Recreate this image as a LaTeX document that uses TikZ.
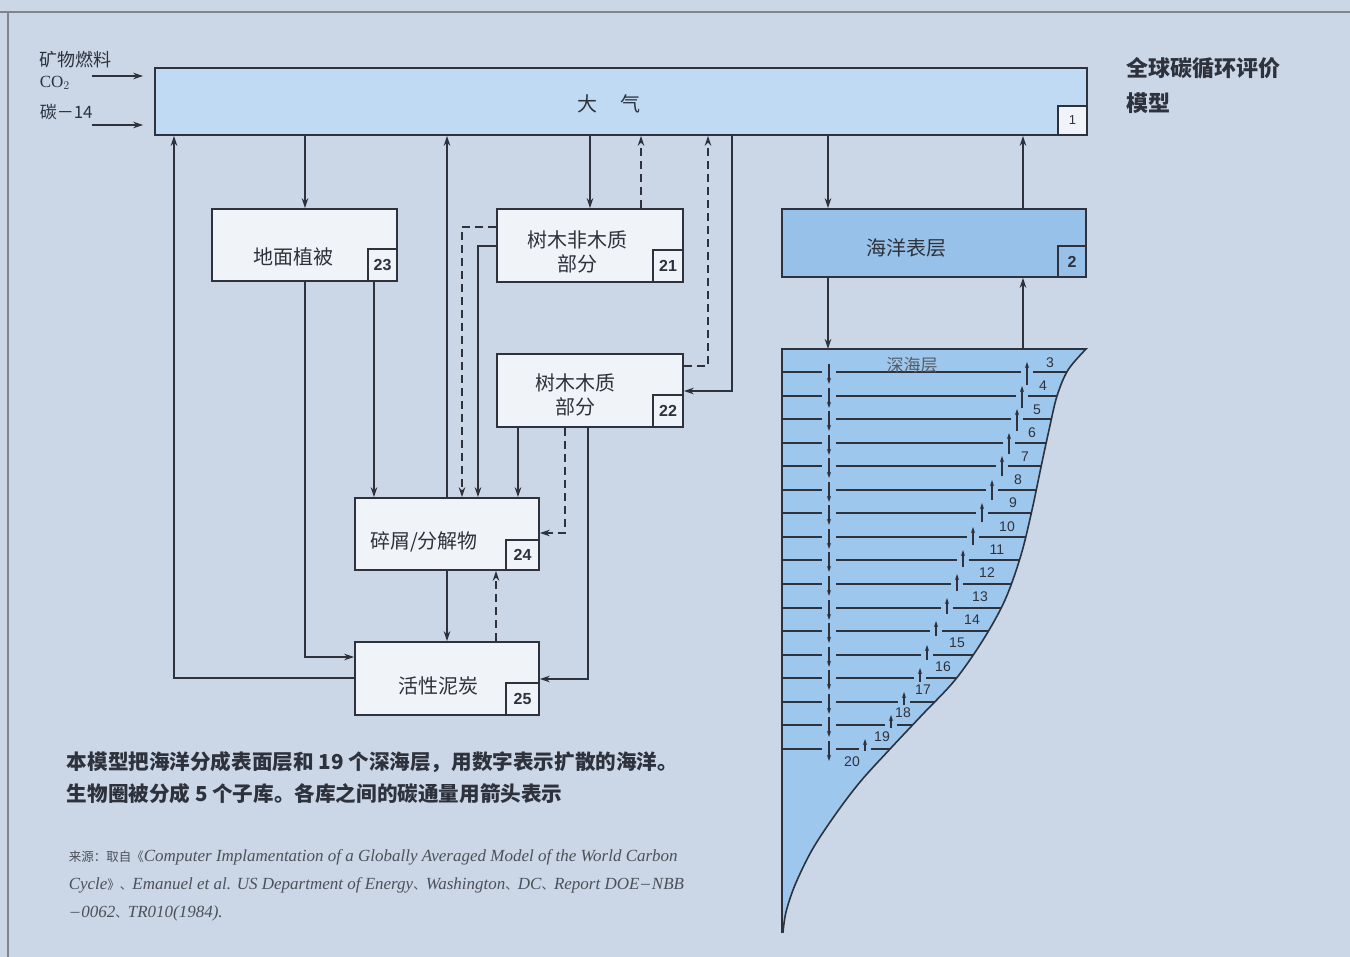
\documentclass[tikz,border=0pt]{standalone}
\usepackage{fontspec}
\setmainfont{Liberation Sans}
\newfontfamily\cjk{Noto Sans CJK SC}
\newfontfamily\serifl{Liberation Serif}
\usetikzlibrary{arrows.meta,calc}
\definecolor{bg}{RGB}{203,214,230}
\definecolor{atmfill}{RGB}{192,218,244}
\definecolor{seafill}{RGB}{152,193,233}
\definecolor{deepfill}{RGB}{158,199,238}
\definecolor{boxfill}{RGB}{240,243,247}
\definecolor{ink}{RGB}{45,50,60}
\newcommand\deepshape{(782,932) -- (782,349) -- plot[smooth,tension=0.55] coordinates {(1086,349) (1068,370) (1057,396) (1049,430) (1041,467) (1032,510) (1021,555) (1005,600) (983,640) (955,680) (922,715) (890,749) (860,782) (835,815) (812,850) (795,885) (786,912) (783,932)} -- cycle}
\newcommand\srcit[1]{{\serifl\itshape\fontsize{17}{17}\selectfont #1}}
\newcommand\srccj[1]{{\cjk\fontsize{12.5}{12.5}\selectfont #1}}
\begin{document}
\begin{tikzpicture}[x=1pt,y=-1pt, line width=1.6pt, color=ink,
  arr/.style={-{Stealth[length=10pt,width=6.5pt]}},
  sarr/.style={line width=1.1pt,-{Stealth[length=6pt,width=4pt]}},
  dsh/.style={dash pattern=on 8pt off 5pt},
  box/.style={draw=ink, fill=boxfill, inner sep=0pt},
  numbox/.style={draw=ink, fill=boxfill, inner sep=0pt, anchor=south east, font=\fontsize{16}{16}\selectfont\bfseries},
  lbl/.style={font=\cjk\fontsize{20}{24}\selectfont, text=ink, align=center, inner sep=0pt},
  lay/.style={font=\fontsize{14}{14}\selectfont, inner sep=0pt},
]
\useasboundingbox (0,0) rectangle (1350,957);
\fill[bg] (0,0) rectangle (1350,957);
\draw[line width=2pt, ink!60] (0,12) -- (1350,12);
\draw[line width=2pt, ink!60] (8,12) -- (8,957);

% main boxes
\node[box, fill=atmfill, minimum width=932pt, minimum height=67pt] (atm) at (621,101.5) {};
\node[numbox, minimum width=29pt, minimum height=29pt, font=\fontsize{13}{13}\selectfont] (k1) at (atm.south east) {1};
\node[lbl] (tatm) at (609,104) {大\hspace{23pt}气};

\node[box, minimum width=185pt, minimum height=72pt] (n23) at (304.5,245) {};
\node[numbox, minimum width=29pt, minimum height=32pt] (k23) at (n23.south east) {23};
\node[lbl] (t23) at (293,257) {地面植被};

\node[box, minimum width=186pt, minimum height=73pt] (n21) at (590,245.5) {};
\node[numbox, minimum width=30pt, minimum height=32pt] (k21) at (n21.south east) {21};
\node[lbl] (t21) at (577,252) {树木非木质\\部分};

\node[box, minimum width=186pt, minimum height=73pt] (n22) at (590,390.5) {};
\node[numbox, minimum width=30pt, minimum height=32pt] (k22) at (n22.south east) {22};
\node[lbl] (t22) at (575,395) {树木木质\\部分};

\node[box, minimum width=184pt, minimum height=72pt] (n24) at (447,534) {};
\node[numbox, minimum width=33pt, minimum height=30pt] (k24) at (n24.south east) {24};
\node[lbl] (t24) at (424,542) {碎屑/分解物};

\node[box, minimum width=184pt, minimum height=73pt] (n25) at (447,678.5) {};
\node[numbox, minimum width=33pt, minimum height=32pt] (k25) at (n25.south east) {25};
\node[lbl] (t25) at (438,686) {活性泥炭};

\node[box, fill=seafill, minimum width=304pt, minimum height=68pt] (sea) at (934,243) {};
\node[numbox, fill=seafill, minimum width=28pt, minimum height=31pt] (k2) at (sea.south east) {2};
\node[lbl] (tsea) at (906,248) {海洋表层};

% deep ocean
\fill[deepfill] \deepshape;
\coordinate (deeptop) at (934,349);
\begin{scope}
\clip \deepshape;
\foreach \i/\ux in {1/1027,2/1022,3/1017,4/1009,5/1002,6/992,7/982,8/973,9/963,10/957,11/947,12/936,13/927,14/920,15/904,16/891,17/865} {
  \pgfmathsetmacro\yy{round(372+(\i-1)*23.56)}
  \draw (780,\yy) -- (822,\yy);
  \draw (836,\yy) -- (\ux-6,\yy);
  \draw (\ux+6,\yy) -- (1100,\yy);
}
\end{scope}
\foreach \i/\ux in {1/1027,2/1022,3/1017,4/1009,5/1002,6/992,7/982,8/973,9/963,10/957,11/947,12/936,13/927,14/920,15/904,16/891,17/865} {
  \pgfmathsetmacro\yy{round(372+(\i-1)*23.56)}
  \pgfmathsetmacro\yb{\yy+13-(\i-1)*0.7}
  \draw[sarr] (829,\yy-8) -- (829,\yy+12);
  \draw[sarr] (\ux,\yb) -- (\ux,\yy-10);
}
\draw \deepshape;
\node[lbl, font=\cjk\fontsize{17}{17}\selectfont, text=ink!80] (tdeep) at (912,365) {深海层};
\foreach \n/\px/\py in {3/1050/363,4/1043/386,5/1037/410,6/1032/433,7/1025/457,8/1018/480,9/1013/503,10/1007/527,11/997/550,12/987/573,13/980/597,14/972/620,15/957/643,16/943/667,17/923/690,18/903/713,19/882/737,20/852/762} {
  \node[lay] (L\n) at (\px,\py) {\n};
}

% inputs
\node[lbl, font=\cjk\fontsize{18}{18}\selectfont, anchor=west] (fuel) at (39,60) {矿物燃料};
\node[anchor=west, inner sep=0pt, font=\serifl\fontsize{17}{17}\selectfont] (co2) at (39,83) {CO$_2$};
\node[anchor=west, inner sep=0pt, font=\cjk\fontsize{17}{17}\selectfont] (c14) at (39,112) {碳－14};
\coordinate (in1) at (92,76);
\coordinate (in2) at (92,125);
\draw[arr, shorten >=11pt] (in1) -- (in1 -| atm.west);
\draw[arr, shorten >=11pt] (in2) -- (in2 -| atm.west);

% title
\node[anchor=west, inner sep=0pt, font=\cjk\bfseries\fontsize{22}{22}\selectfont] (title1) at (1126,68) {全球碳循环评价};
\node[anchor=west, inner sep=0pt, font=\cjk\bfseries\fontsize{22}{22}\selectfont] (title2) at (1126,103) {模型};

% connectors
\draw[arr] (305,0 |- atm.south) -- (305,0 |- n23.north);
\draw[arr] (n25.west |- 0,678) -| (174,0 |- atm.south);
\draw[arr] (305,0 |- n23.south) |- (n25.west |- 0,657);
\draw[arr] (374,0 |- n23.south) -- (374,0 |- n24.north);
\draw[arr] (447,0 |- n24.north) -- (447,0 |- atm.south);
\draw[arr,dsh] (n21.west |- 0,227) -| (462,0 |- n24.north);
\draw[arr] (n21.west |- 0,246) -| (478,0 |- n24.north);
\draw[arr] (590,0 |- atm.south) -- (590,0 |- n21.north);
\draw[arr,dsh] (641,0 |- n21.north) -- (641,0 |- atm.south);
\draw[arr,dsh] (n22.east |- 0,366) -| (708,0 |- atm.south);
\draw[arr] (732,0 |- atm.south) |- (n22.east |- 0,391);
\draw[arr] (518,0 |- n22.south) -- (518,0 |- n24.north);
\draw[arr,dsh] (565,0 |- n22.south) |- (n24.east |- 0,533);
\draw[arr] (588,0 |- n22.south) |- (n25.east |- 0,679);
\draw[arr] (447,0 |- n24.south) -- (447,0 |- n25.north);
\draw[arr,dsh] (496,0 |- n25.north) -- (496,0 |- n24.south);
\draw[arr] (828,0 |- atm.south) -- (828,0 |- sea.north);
\draw[arr] (1023,0 |- sea.north) -- (1023,0 |- atm.south);
\draw[arr] (828,0 |- sea.south) -- (828,0 |- deeptop);
\draw[arr] (1023,0 |- deeptop) -- (1023,0 |- sea.south);

% captions
\node[anchor=west, inner sep=0pt, font=\cjk\bfseries\fontsize{20.6}{20.6}\selectfont] (cap1) at (66,762) {本模型把海洋分成表面层和 19 个深海层，用数字表示扩散的海洋。};
\node[anchor=west, inner sep=0pt, font=\cjk\bfseries\fontsize{20.6}{20.6}\selectfont] (cap2) at (66,794) {生物圈被分成 5 个子库。各库之间的碳通量用箭头表示};

\node[anchor=west, inner sep=0pt, text=ink!85] (src1) at (68,857) {\srccj{来源：取自《}\srcit{Computer Implamentation of a Globally Averaged Model of the World Carbon}};
\node[anchor=west, inner sep=0pt, text=ink!85] (src2) at (68,885) {\srcit{Cycle}\srccj{》、}\srcit{Emanuel et al. US Department of Energy}\srccj{、}\srcit{Washington}\srccj{、}\srcit{DC}\srccj{、}\srcit{Report DOE}\srccj{－}\srcit{NBB}};
\node[anchor=west, inner sep=0pt, text=ink!85] (src3) at (68,913) {\srccj{－}\srcit{0062}\srccj{、}\srcit{TR010(1984).}};
\end{tikzpicture}
\end{document}
